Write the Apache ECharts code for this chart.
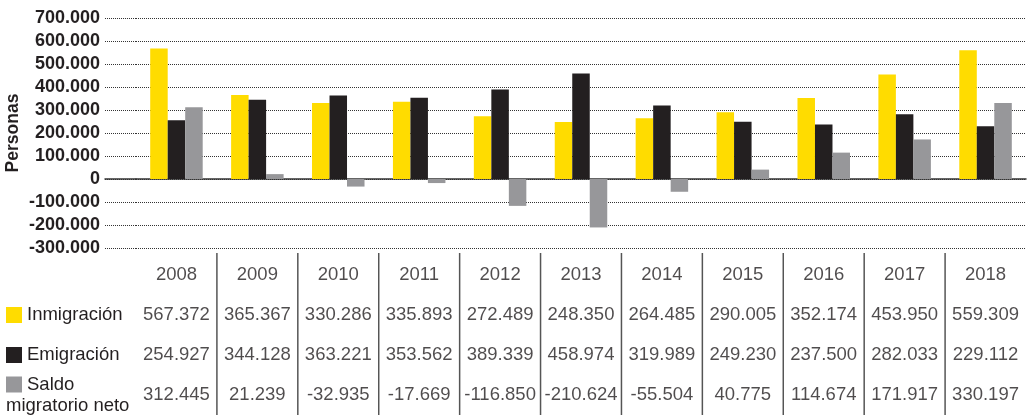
<!DOCTYPE html>
<html>
<head>
<meta charset="utf-8">
<script src="https://cdn.jsdelivr.net/npm/echarts@6/dist/echarts.min.js"></script>
<style>
  html, body { margin: 0; padding: 0; background: #fff; }
  #chart { width: 1030px; height: 417px; }
</style>
</head>
<body>
<div id="chart"></div>
<script>
// datos
const years = ['2008', '2009', '2010', '2011', '2012', '2013', '2014', '2015', '2016', '2017', '2018'];
const inmigracion = [567372, 365367, 330286, 335893, 272489, 248350, 264485, 290005, 352174, 453950, 559309];
const emigracion = [254927, 344128, 363221, 353562, 389339, 458974, 319989, 249230, 237500, 282033, 229112];
const saldo = [312445, 21239, -32935, -17669, -116850, -210624, -55504, 40775, 114674, 171917, 330197];
const rowNames = ['Año', 'Inmigración', 'Emigración', 'Saldo migratorio neto'];
const yMin = -300000, yMax = 700000, yStep = 100000;

const FONT = '"Liberation Sans", Arial, sans-serif';
const INK = '#231f20';
const colors = ['#ffdc00', '#231f20', '#97979a'];
const TABLE_FS = 18.5;

// 567372 -> "567.372"
function fmt(v) {
    const s = Math.abs(v).toString().replace(/\B(?=(\d{3})+(?!\d))/g, '.');
    return (v < 0 ? '-' : '') + s;
}

document.addEventListener('DOMContentLoaded', function () {
    const chart = echarts.init(document.getElementById('chart'));

    const gridLine = { show: true, lineStyle: { color: '#333', width: 1, type: [1, 1] } };
    const zeroLine = { show: true, onZero: true, lineStyle: { color: '#333', width: 1.5 } };

    // celdas de la tabla: [columna, fila, texto]
    const cells = [];
    years.forEach((y, i) => {
        cells.push([i, 0, y]);
        cells.push([i, 1, fmt(inmigracion[i])]);
        cells.push([i, 2, fmt(emigracion[i])]);
        cells.push([i, 3, fmt(saldo[i])]);
    });
    const separators = years.slice(1).map((y, i) => [i + 1, 0]);

    const barSeries = (name, data, color) => ({
        name, type: 'bar', xAxisIndex: 1, yAxisIndex: 1,
        data, barWidth: 17.5, barGap: '0%',
        itemStyle: { color }
    });

    const option = {
        animation: false,
        textStyle: { fontFamily: FONT },
        grid: [
            { left: 105, top: 18, width: 31, height: 230 },   // tramo izquierdo (etiquetas eje Y)
            { left: 136, right: 4, top: 18, height: 230 },    // barras
            { left: 136, right: 4, top: 255, height: 160 }    // tabla
        ],
        xAxis: [
            { gridIndex: 0, type: 'category', data: [''], axisLine: zeroLine, axisTick: { show: false }, axisLabel: { show: false } },
            { gridIndex: 1, type: 'category', data: years, axisLine: zeroLine, axisTick: { show: false }, axisLabel: { show: false } },
            { gridIndex: 2, type: 'category', data: years, show: false }
        ],
        yAxis: [
            {
                gridIndex: 0, type: 'value', min: yMin, max: yMax, interval: yStep,
                axisLine: { show: false }, axisTick: { show: false },
                splitLine: gridLine,
                axisLabel: { formatter: fmt, fontWeight: 'bold', fontSize: 18, color: INK, margin: 5, fontFamily: FONT },
                name: 'Personas', nameLocation: 'middle', nameGap: 83, nameRotate: 90,
                nameTextStyle: { fontWeight: 'bold', fontSize: 17.5, color: INK, fontFamily: FONT }
            },
            {
                gridIndex: 1, type: 'value', min: yMin, max: yMax, interval: yStep,
                axisLine: { show: false }, axisTick: { show: false },
                axisLabel: { show: false }, splitLine: gridLine
            },
            {
                gridIndex: 2, type: 'category', data: rowNames, inverse: true,
                axisLine: { show: false }, axisTick: { show: false }, splitLine: { show: false },
                axisLabel: {
                    margin: 130, align: 'left', color: INK, fontSize: TABLE_FS, fontFamily: FONT,
                    formatter: function (v, idx) {
                        if (idx === 0) return '';
                        if (idx === 1) return '{k1|}{t|Inmigración}';
                        if (idx === 2) return '{k2|}{t|Emigración}';
                        return '{k3|}{t|Saldo}\n{u|migratorio neto}';
                    },
                    rich: {
                        k1: { width: 16, height: 16, backgroundColor: colors[0] },
                        k2: { width: 16, height: 16, backgroundColor: colors[1] },
                        k3: { width: 16, height: 16, backgroundColor: colors[2] },
                        t: { fontSize: TABLE_FS, color: INK, padding: [0, 0, 0, 5], lineHeight: 21, fontFamily: FONT },
                        u: { fontSize: TABLE_FS, color: INK, lineHeight: 21, fontFamily: FONT }
                    }
                }
            }
        ],
        series: [
            barSeries('Inmigración', inmigracion, colors[0]),
            barSeries('Emigración', emigracion, colors[1]),
            barSeries('Saldo migratorio neto', saldo, colors[2]),
            {
                // valores de la tabla
                type: 'scatter', xAxisIndex: 2, yAxisIndex: 2, silent: true,
                symbolSize: 0, data: cells,
                label: {
                    show: true, position: 'inside', fontSize: TABLE_FS, color: INK, fontFamily: FONT,
                    formatter: p => p.value[2]
                }
            },
            {
                // líneas verticales entre columnas
                type: 'custom', xAxisIndex: 2, yAxisIndex: 2, silent: true,
                data: separators,
                renderItem: function (params, api) {
                    const x = api.coord([api.value(0), 0])[0] - api.size([1, 0])[0] / 2;
                    const cs = params.coordSys;
                    return {
                        type: 'line',
                        shape: { x1: x, y1: cs.y - 2, x2: x, y2: cs.y + cs.height },
                        style: { stroke: '#555', lineWidth: 1.5 }
                    };
                }
            }
        ]
    };

    chart.setOption(option);
    window.addEventListener('resize', () => chart.resize());
});
</script>
</body>
</html>
